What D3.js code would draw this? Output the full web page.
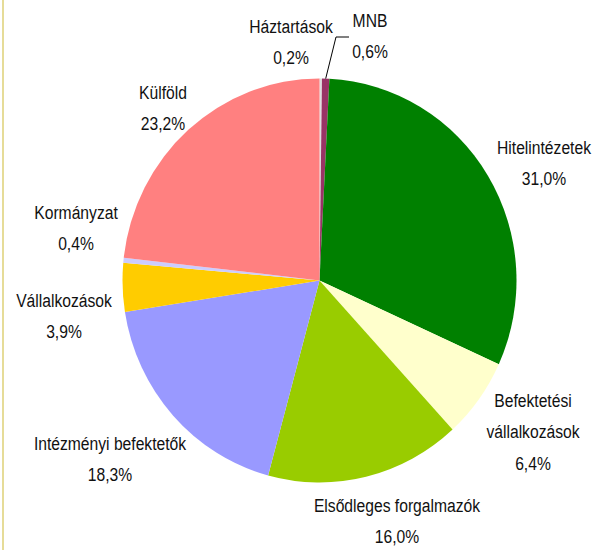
<!DOCTYPE html>
<html>
<head>
<meta charset="utf-8">
<script src="https://cdn.jsdelivr.net/npm/d3@7"></script>
<style>
  body { margin: 0; background: #fff; }
  svg text { font-family: "Liberation Sans", Arial, sans-serif; font-size: 18px; fill: #111; }
</style>
</head>
<body>
<div id="chart"></div>
<script>
// Sectors, clockwise from 12 o'clock
const sectors = ["Háztartások", "MNB", "Hitelintézetek", "Befektetési vállalkozások",
    "Elsődleges forgalmazók", "Intézményi befektetők", "Vállalkozások", "Kormányzat", "Külföld"];
const shares = [0.2, 0.6, 31.0, 6.4, 16.0, 18.3, 3.9, 0.4, 23.2];
const colors = ["#dedede", "#993366", "#008000", "#ffffcc", "#99cc00", "#9999ff", "#ffcc00", "#ccccff", "#ff8080"];

// label lines (name split where the chart wraps)
const labelLines = [["Háztartások"], ["MNB"], ["Hitelintézetek"], ["Befektetési", "vállalkozások"],
    ["Elsődleges forgalmazók"], ["Intézményi befektetők"], ["Vállalkozások"], ["Kormányzat"], ["Külföld"]];
// label anchor (centre x, first baseline y)
const labelPos = [[291, 33], [370, 27], [544, 154], [533, 407], [397, 512], [110, 450], [64, 307], [76, 219], [163, 99]];

//Size
var w = 595;
var h = 550;
var cx = 319.5, cy = 280.5;
var rx = 197, ry = 202;
var lineH = 31.5;

var svg = d3.select("#chart")
    .append("svg")
    .attr("width", w)
    .attr("height", h);

//Left frame line
svg.append("line")
    .attr("x1", 3).attr("x2", 3)
    .attr("y1", 0).attr("y2", h)
    .attr("stroke", "#e6dc98")
    .attr("stroke-width", 2);

var data = sectors.map((s, i) => ({ name: s, value: shares[i], i: i }));

var pie = d3.pie()
    .value(d => d.value)
    .sort(null);

var arc = d3.arc()
    .innerRadius(0)
    .outerRadius(rx);

var arcs = pie(data);

svg.append("g")
    .attr("transform", `translate(${cx},${cy}) scale(1,${ry / rx})`)
    .selectAll("path")
    .data(arcs)
    .join("path")
    .attr("d", arc)
    .attr("fill", d => colors[d.data.i]);

//Leader line for MNB
var mnb = arcs[1];
var mid = (mnb.startAngle + mnb.endAngle) / 2;
var px = cx + rx * Math.sin(mid), py = cy - ry * Math.cos(mid);
svg.append("path")
    .attr("d", `M${px},${py}L336,37L349,37`)
    .attr("fill", "none")
    .attr("stroke", "#000")
    .attr("stroke-width", 1);

//Labels (horizontally condensed like the original)
var labels = svg.selectAll("text.lbl")
    .data(arcs)
    .join("text")
    .attr("class", "lbl")
    .attr("text-anchor", "middle")
    .attr("transform", d => `translate(${labelPos[d.data.i][0]},${labelPos[d.data.i][1]}) scale(0.87,1)`);

labels.each(function (d) {
    var t = d3.select(this);
    var lines = labelLines[d.data.i].concat([d3.format(".1f")(d.data.value).replace(".", ",") + "%"]);
    lines.forEach((l, k) => {
        t.append("tspan")
            .attr("x", 0)
            .attr("y", k * lineH)
            .text(l);
    });
});
</script>
</body>
</html>
